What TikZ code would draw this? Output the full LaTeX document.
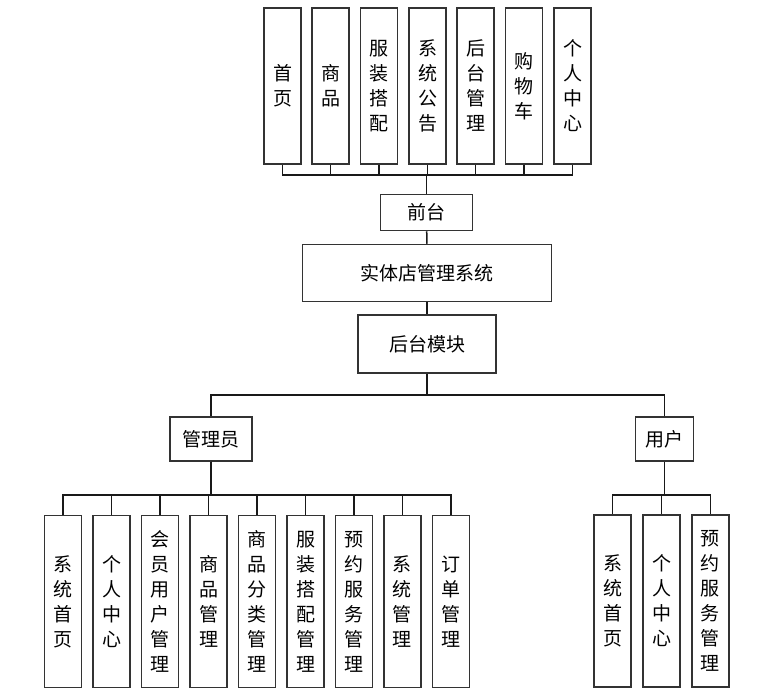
\documentclass[tikz,border=0pt]{standalone}
\usepackage{fontspec}
\setmainfont{Noto Sans CJK SC}

\begin{document}
\begin{tikzpicture}[x=1pt, y=-1pt,
        box/.style={draw=black!80, line width=1.5pt, fill=white, inner sep=0pt, align=center, font=\fontsize{19}{25}\selectfont},
        tall/.style={box, minimum width=37pt, minimum height=156pt},
        leaf/.style={box, minimum width=37pt, minimum height=172pt},
        link/.style={line width=1.5pt, draw=black!90}]
        \useasboundingbox (0,0) rectangle (764,694);

        % front end
        \node[tall] (home) at (282.5, 86) {首\\页};
        \node[tall] (goods) at (330.7, 86) {商\\品};
        \node[tall] (outfit) at (379.2, 86) {服\\装\\搭\\配};
        \node[tall] (notice) at (427.5, 86) {系\\统\\公\\告};
        \node[tall] (backend) at (475.7, 86) {后\\台\\管\\理};
        \node[tall] (cart) at (524.2, 86) {购\\物\\车};
        \node[tall] (mine) at (572.5, 86) {个\\人\\中\\心};

        \node[box, minimum width=92pt, minimum height=36pt] (front) at (426.7, 212.5) {前台};
        \node[box, minimum width=249pt, minimum height=57pt] (system) at (427, 273) {实体店管理系统};
        \node[box, minimum width=138pt, minimum height=58pt] (module) at (427, 344) {后台模块};

        \node[box, minimum width=82pt, minimum height=44pt] (admin) at (211, 439) {管理员};
        \node[box, minimum width=58pt, minimum height=44pt] (user) at (664.5, 439) {用户};

        % admin leaves
        \node[leaf] (a1) at (63.2, 601.7) {系\\统\\首\\页};
        \node[leaf] (a2) at (111.7, 601.7) {个\\人\\中\\心};
        \node[leaf] (a3) at (160.2, 601.7) {会\\员\\用\\户\\管\\理};
        \node[leaf] (a4) at (208.5, 601.7) {商\\品\\管\\理};
        \node[leaf] (a5) at (256.8, 601.7) {商\\品\\分\\类\\管\\理};
        \node[leaf] (a6) at (305.5, 601.7) {服\\装\\搭\\配\\管\\理};
        \node[leaf] (a7) at (353.8, 601.7) {预\\约\\服\\务\\管\\理};
        \node[leaf] (a8) at (402.3, 601.7) {系\\统\\管\\理};
        \node[leaf] (a9) at (450.8, 601.7) {订\\单\\管\\理};

        % user leaves
        \node[leaf] (u1) at (612.7, 600.8) {系\\统\\首\\页};
        \node[leaf] (u2) at (661.5, 600.8) {个\\人\\中\\心};
        \node[leaf] (u3) at (710.3, 600.8) {预\\约\\服\\务\\管\\理};

        \foreach \n in {home, goods, outfit, notice, backend, cart, mine}
            \draw[link] (\n.south) -- ++(0,10) -| (front.north);
        \draw[link] (front.south) -- (system.north);
        \draw[link] (system.south) -- (module.north);
        \draw[link] (module.south) -- ++(0,21) -| (admin.north);
        \draw[link] (module.south) -- ++(0,21) -| (user.north);
        \foreach \n in {a1, a2, a3, a4, a5, a6, a7, a8, a9}
            \draw[link] (admin.south) -- ++(0,33) -| (\n.north);
        \foreach \n in {u1, u2, u3}
            \draw[link] (user.south) -- ++(0,33) -| (\n.north);
\end{tikzpicture}
\end{document}
